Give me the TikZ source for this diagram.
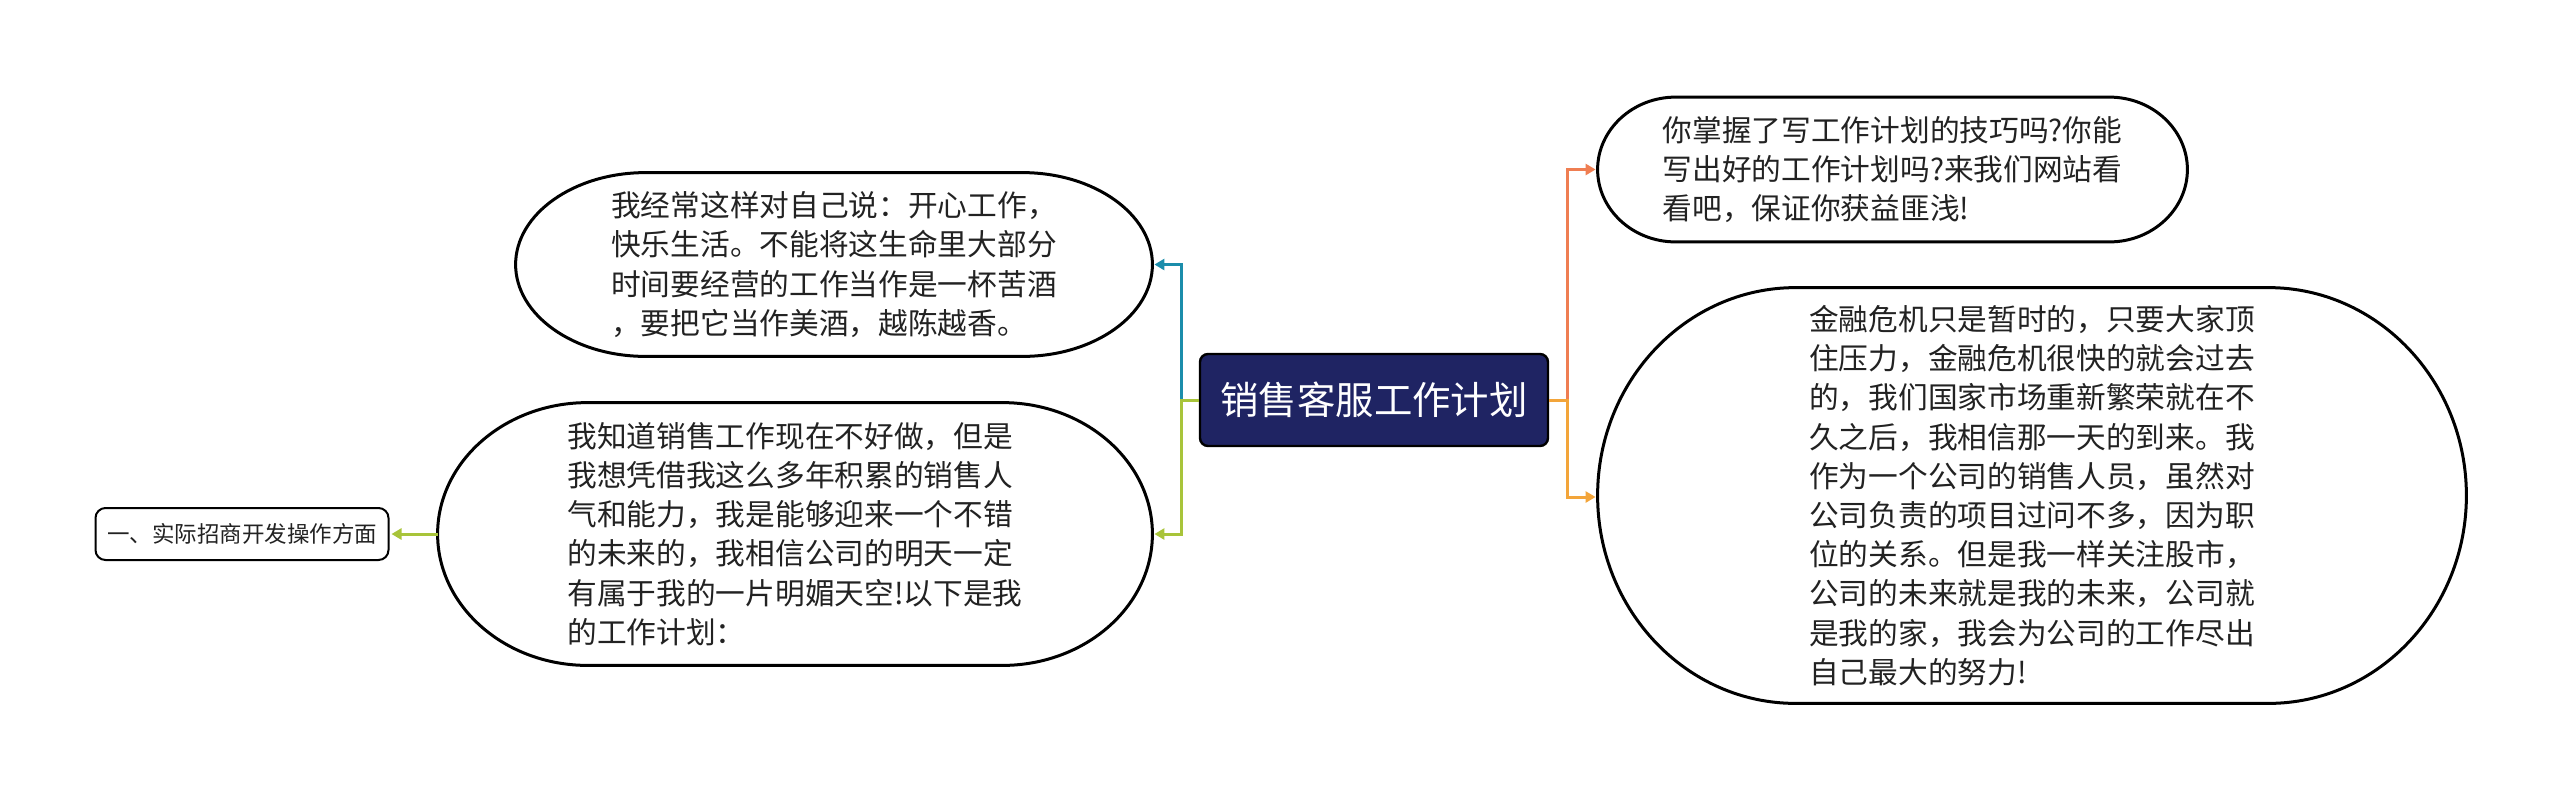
\documentclass[tikz,border=0pt]{standalone}
\usepackage{fontspec}
\newfontfamily\cjk{Noto Sans CJK SC}
\usepackage{xcolor}
\usepackage{tikz}
\usetikzlibrary{positioning, calc, arrows.meta}

\definecolor{rootfill}{RGB}{31,36,99}
\definecolor{tealline}{RGB}{27,141,171}
\definecolor{limeline}{RGB}{168,196,58}
\definecolor{coralline}{RGB}{239,126,82}
\definecolor{amberline}{RGB}{243,165,58}
\definecolor{textgray}{RGB}{34,34,34}

% bubble outline round a node: #1 node, #2 x radius, #3 y radius (px)
\newcommand{\bubbleshape}[3]{%
  \draw [line width=1.5pt] ($(#1.north west)+(#2,0)$) -- ($(#1.north east)+(-#2,0)$)
    .. controls +(0.552*#2,0) and +(0,-0.552*#3) .. (#1.east)
    .. controls +(0,0.552*#3) and +(0.552*#2,0) .. ($(#1.south east)+(-#2,0)$)
    -- ($(#1.south west)+(#2,0)$)
    .. controls +(-0.552*#2,0) and +(0,0.552*#3) .. (#1.west)
    .. controls +(0,-0.552*#3) and +(-0.552*#2,0) .. ($(#1.north west)+(#2,0)$) -- cycle;}

\begin{document}
\begin{tikzpicture}[x=0.5pt,y=0.5pt,yscale=-1,xscale=1,
  rootbox/.style={draw=black, line width=1.2pt, fill=rootfill, rounded corners=4pt,
    text=white, font=\cjk\fontsize{19.2pt}{23pt}\selectfont, inner sep=0pt,
    minimum width=174pt, minimum height=46pt},
  bubbletext/.style={inner sep=0pt, align=left, text=textgray,
    font=\cjk\fontsize{14.85pt}{19.6pt}\selectfont},
  leafbox/.style={draw=black, line width=1pt, rounded corners=5pt, inner sep=0pt,
    text=textgray, font=\cjk\fontsize{11.25pt}{14pt}\selectfont,
    minimum width=146.5pt, minimum height=26pt},
  link/.style={line width=1.5pt, -{Triangle[length=5pt, width=5.5pt]}, shorten >=1pt}]
\useasboundingbox (0,0) rectangle (2560,800);

% Root
\node [rootbox] (root) at (1374,400) {销售客服工作计划};

% Left bubbles
\node [bubbletext, minimum width=318pt, minimum height=91.5pt] (talk) at (834,264.5)
  {我经常这样对自己说：开心工作，\\快乐生活。不能将这生命里大部分\\时间要经营的工作当作是一杯苦酒\\，要把它当作美酒，越陈越香。};
\bubbleshape{talk}{130}{91.5}

\node [bubbletext, minimum width=357pt, minimum height=131pt] (know) at (795,534)
  {我知道销售工作现在不好做，但是\\我想凭借我这么多年积累的销售人\\气和能力，我是能够迎来一个不错\\的未来的，我相信公司的明天一定\\有属于我的一片明媚天空!以下是我\\的工作计划：};
\bubbleshape{know}{150}{131}

\node [leafbox] (plan) at (242,534) {一、实际招商开发操作方面};

% Right bubbles
\node [bubbletext, minimum width=294.5pt, minimum height=72pt] (site) at (1892.5,169.5)
  {你掌握了写工作计划的技巧吗?你能\\写出好的工作计划吗?来我们网站看\\看吧，保证你获益匪浅!};
\bubbleshape{site}{78}{72}

\node [bubbletext, minimum width=434pt, minimum height=207.5pt] (crisis) at (2032,495.5)
  {金融危机只是暂时的，只要大家顶\\住压力，金融危机很快的就会过去\\的，我们国家市场重新繁荣就在不\\久之后，我相信那一天的到来。我\\作为一个公司的销售人员，虽然对\\公司负责的项目过问不多，因为职\\位的关系。但是我一样关注股市，\\公司的未来就是我的未来，公司就\\是我的家，我会为公司的工作尽出\\自己最大的努力!};
\bubbleshape{crisis}{198}{207.5}

% Connectors
\draw [link, tealline] ($(root.west)+(-17,0)$) |- (talk.east);
\draw [link, limeline] (root.west) -- ++(-17,0) |- (know.east);
\draw [link, limeline] (know.west) -- (plan.east);
\draw [link, coralline] ($(root.east)+(18,0)$) |- (site.west);
\draw [link, amberline] (root.east) -- ++(18,0) |- ($(crisis.west)+(0,1.5)$);

\end{tikzpicture}
\end{document}
